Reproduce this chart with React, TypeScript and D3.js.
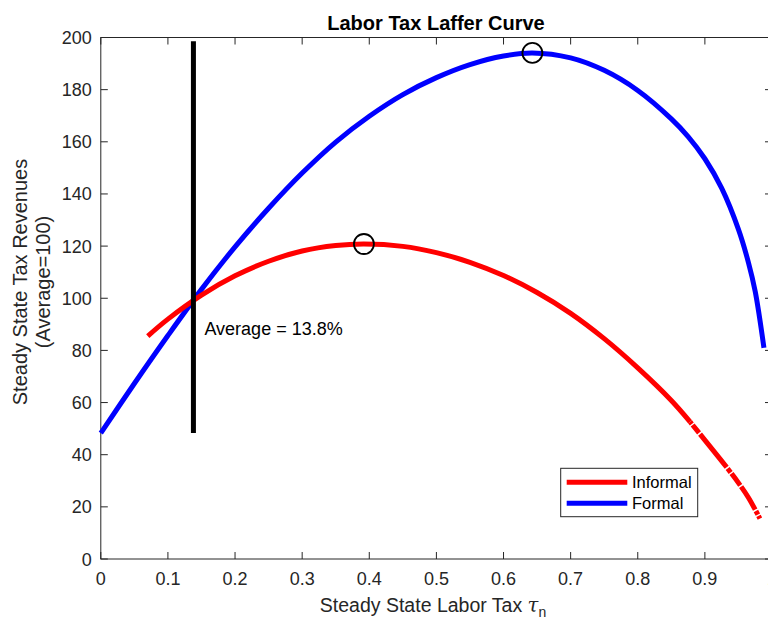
import React from "react";
import * as d3 from "d3";

// ---- data ----
const formalTau = [0, 0.05, 0.1, 0.15, 0.2, 0.25, 0.3, 0.35, 0.4, 0.45, 0.5, 0.55, 0.6, 0.643, 0.7, 0.75, 0.8, 0.85, 0.875, 0.9, 0.925, 0.95, 0.965, 0.975, 0.988];
const formalRev = [48.3, 67.3, 85.7, 103.4, 119.7, 134.5, 148, 159.9, 169.8, 178.1, 184.6, 189.6, 192.9, 194.1, 192.2, 187.4, 179.7, 168.8, 162, 153.5, 142.2, 126.4, 113.6, 102.6, 81];

const informalTau = [0.07, 0.1, 0.15, 0.2, 0.25, 0.3, 0.35, 0.392, 0.45, 0.5, 0.55, 0.6, 0.65, 0.7, 0.75, 0.8, 0.85, 0.878, 0.9, 0.933, 0.95, 0.965, 0.982];
const informalRev = [85.5, 92, 101.2, 108.6, 114.2, 118.1, 120.2, 120.8, 119.9, 117.5, 113.8, 108.7, 102.2, 94.2, 84.5, 73.3, 60.8, 52.6, 45.6, 35, 29.2, 23.5, 15.5];
const informalTailStart = 0.878;

const formalPeak = { tau: 0.643, rev: 194.1 };
const informalPeak = { tau: 0.392, rev: 120.8 };
const averageTau = 0.138;
const averageLineRange = [48.3, 198.6];
const averageLabel = "Average = 13.8%";

const xTicks = [0, 0.1, 0.2, 0.3, 0.4, 0.5, 0.6, 0.7, 0.8, 0.9, 1];
const yTicks = [0, 20, 40, 60, 80, 100, 120, 140, 160, 180, 200];

const seriesNames = ["Informal", "Formal"];
const seriesColors = ["#ff0000", "#0000ff"];

const title = "Labor Tax Laffer Curve";
const xLabel = "Steady State Labor Tax ";
const yLabel1 = "Steady State Tax Revenues";
const yLabel2 = "(Average=100)";

// ---- layout ----
const W = 768;
const H = 620;
const left = 100.8;
const right = 772;
const top = 37.5;
const bottom = 559;
const axisColor = "#262626";
const font = "'Liberation Sans', Arial, Helvetica, sans-serif";

export default function App() {
  const x = d3.scaleLinear().domain([0, 1]).range([left, right]);
  const y = d3.scaleLinear().domain([0, 200]).range([bottom, top]);

  const line = d3
    .line<[number, number]>()
    .x((d) => x(d[0]))
    .y((d) => y(d[1]))
    .curve(d3.curveCatmullRom.alpha(0.5));

  const formalPts: [number, number][] = formalTau.map((t, i) => [t, formalRev[i]]);
  const informalPts: [number, number][] = informalTau.map((t, i) => [t, informalRev[i]]);
  const informalMain = informalPts.filter((p) => p[0] <= informalTailStart);
  const informalTail = informalPts.filter((p) => p[0] >= informalTailStart);

  const tickLen = 7;
  const fs = 18;

  return (
    <svg
      width={W}
      height={H}
      style={{ position: "absolute", left: 0, top: 0, background: "#fff" }}
      fontFamily={font}
    >
      <rect x={0} y={0} width={W} height={H} fill="#fff" />
      {/* axes box */}
      <rect x={left} y={top} width={right - left} height={bottom - top} fill="none" stroke={axisColor} strokeWidth={1} />
      {xTicks.map((t) => (
        <g key={"xt" + t}>
          <line x1={x(t)} x2={x(t)} y1={bottom} y2={bottom - tickLen} stroke={axisColor} />
          <line x1={x(t)} x2={x(t)} y1={top} y2={top + tickLen} stroke={axisColor} />
          <text x={x(t)} y={bottom + 26} textAnchor="middle" fontSize={fs} fill={axisColor}>
            {t === 0 || t === 1 ? String(t) : t.toFixed(1)}
          </text>
        </g>
      ))}
      {yTicks.map((t) => (
        <g key={"yt" + t}>
          <line x1={left} x2={left + tickLen} y1={y(t)} y2={y(t)} stroke={axisColor} />
          <line x1={right} x2={right - tickLen} y1={y(t)} y2={y(t)} stroke={axisColor} />
          <text x={left - 9} y={y(t) + 6.5} textAnchor="end" fontSize={fs} fill={axisColor}>
            {t}
          </text>
        </g>
      ))}

      {/* curves */}
      <path d={line(formalPts) || ""} fill="none" stroke={seriesColors[1]} strokeWidth={5} />
      <path d={line(informalMain) || ""} fill="none" stroke={seriesColors[0]} strokeWidth={5} />
      <path
        d={line(informalTail) || ""}
        fill="none"
        stroke={seriesColors[0]}
        strokeWidth={5}
        strokeDasharray="2.8 1.5 10 1.5 42.5 1.5 4.8 1.5 14.8 1.5 27 1.5 4 1.5 4"
      />

      {/* average line */}
      <line
        x1={x(averageTau)}
        x2={x(averageTau)}
        y1={y(averageLineRange[0])}
        y2={y(averageLineRange[1])}
        stroke="#000"
        strokeWidth={5}
      />
      <text x={x(averageTau) + 11} y={335} fontSize={fs} fill="#000">
        {averageLabel}
      </text>

      {/* peak markers */}
      <circle cx={x(formalPeak.tau)} cy={y(formalPeak.rev)} r={10} fill="none" stroke="#000" strokeWidth={1.8} />
      <circle cx={x(informalPeak.tau)} cy={y(informalPeak.rev)} r={10} fill="none" stroke="#000" strokeWidth={1.8} />

      {/* legend */}
      <rect x={560.7} y={468.3} width={137} height={48.4} fill="#fff" stroke={axisColor} strokeWidth={1} />
      {seriesNames.map((n, i) => (
        <g key={n}>
          <line x1={566.7} x2={627.3} y1={482.3 + i * 21} y2={482.3 + i * 21} stroke={seriesColors[i]} strokeWidth={5} />
          <text x={632} y={482.3 + i * 21 + 6} fontSize={16.5} fill="#000">
            {n}
          </text>
        </g>
      ))}

      {/* title & labels */}
      <text x={436} y={30} textAnchor="middle" fontSize={20} fontWeight="bold" fill="#000">
        {title}
      </text>
      <text x={433} y={612} textAnchor="middle" fontSize={19.5} fill={axisColor}>
        {xLabel}
        <tspan fontFamily="'DejaVu Serif', serif" fontStyle="italic">τ</tspan>
        <tspan fontSize={14} dy={5}>n</tspan>
      </text>
      <g transform={`translate(27, 282) rotate(-90)`}>
        <text x={0} y={0} textAnchor="middle" fontSize={20} fill={axisColor}>
          {yLabel1}
        </text>
        <text x={0} y={22.5} textAnchor="middle" fontSize={20} fill={axisColor}>
          {yLabel2}
        </text>
      </g>
    </svg>
  );
}
